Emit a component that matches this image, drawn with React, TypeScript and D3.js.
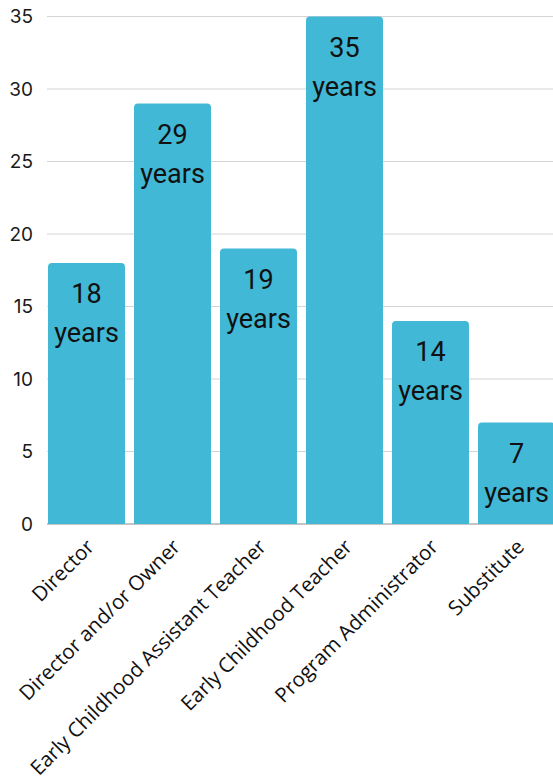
import React from "react";
import * as d3 from "d3";

const categories = [
  "Director",
  "Director and/or Owner",
  "Early Childhood Assistant Teacher",
  "Early Childhood Teacher",
  "Program Administrator",
  "Substitute",
];
const values = [18, 29, 19, 35, 14, 7];
const yTicks = [0, 5, 10, 15, 20, 25, 30, 35];

const W = 553;
const H = 782;
const BAR = "#41B8D5";

function topRoundedRect(x: number, y: number, w: number, h: number, r: number) {
  const p = d3.path();
  p.moveTo(x, y + h);
  p.lineTo(x, y + r);
  p.quadraticCurveTo(x, y, x + r, y);
  p.lineTo(x + w - r, y);
  p.quadraticCurveTo(x + w, y, x + w, y + r);
  p.lineTo(x + w, y + h);
  p.closePath();
  return p.toString();
}

export default function App() {
  const x = d3
    .scaleBand<string>()
    .domain(categories)
    .range([43.5, 559.5])
    .paddingInner(0.105)
    .paddingOuter(0.0525);
  const y = d3.scaleLinear().domain([0, 35]).range([524, 16.5]);

  return (
    <>
      <style>{"body{margin:0}"}</style>
      <svg width={W} height={H} style={{ display: "block", background: "#fff" }}>
        {yTicks.map((t) => (
          <g key={t}>
            {t !== 0 && (
              <line x1={47} x2={W} y1={y(t)} y2={y(t)} stroke="#d4d4d4" strokeWidth={1} />
            )}
            <text
              x={33}
              y={y(t)}
              dy="0.36em"
              textAnchor="end"
              fontFamily="Inter, Roboto, sans-serif"
              fontSize={19}
              fill="#1a1a1a"
            >
              {t}
            </text>
          </g>
        ))}
        <line x1={47} x2={W} y1={y(0)} y2={y(0)} stroke="#8c8c8c" strokeWidth={1.2} />
        {categories.map((c, i) => {
          const bx = x(c)!;
          const bw = x.bandwidth();
          const top = y(values[i]);
          const cx = bx + bw / 2;
          return (
            <g key={c}>
              <path d={topRoundedRect(bx, top, bw, y(0) - top, 4)} fill={BAR} />
              <text
                x={cx}
                y={top + 40}
                textAnchor="middle"
                fontFamily="Roboto, sans-serif"
                fontSize={27}
                fill="#111"
              >
                {values[i]}
              </text>
              <text
                x={cx}
                y={top + 79}
                textAnchor="middle"
                fontFamily="Roboto, sans-serif"
                fontSize={27}
                fill="#111"
              >
                years
              </text>
              <text
                transform={`translate(${cx + 9},${548}) rotate(-45)`}
                textAnchor="end"
                fontFamily="'Open Sans', sans-serif"
                fontSize={20.5}
                fill="#111"
              >
                {c}
              </text>
            </g>
          );
        })}
      </svg>
    </>
  );
}
